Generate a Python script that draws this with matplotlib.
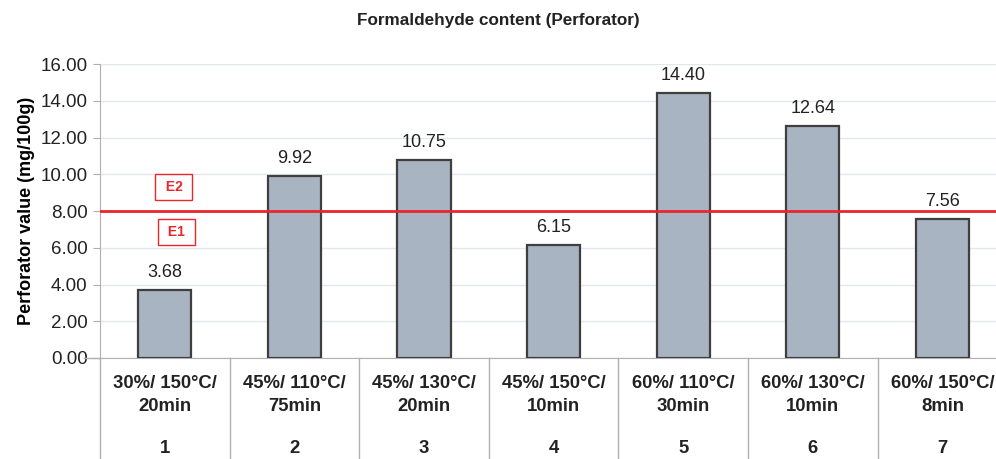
import matplotlib.pyplot as plt

# data
categories = ["30%/ 150°C/\n20min", "45%/ 110°C/\n75min", "45%/ 130°C/\n20min",
              "45%/ 150°C/\n10min", "60%/ 110°C/\n30min", "60%/ 130°C/\n10min",
              "60%/ 150°C/\n8min"]
numbers = ["1", "2", "3", "4", "5", "6", "7"]
values = [3.68, 9.92, 10.75, 6.15, 14.40, 12.64, 7.56]
limit_value = 8.0
y_ticks = [0, 2, 4, 6, 8, 10, 12, 14, 16]

W, H = 996, 459
fig = plt.figure(figsize=(W / 100, H / 100), dpi=100)
plt.rcParams['font.family'] = ['Liberation Sans', 'DejaVu Sans']

# axes: x from 100px to right edge, y from 358px (0) to 64px (16)
left, right = 100, W
bottom_px, top_px = 358, 64
ax = fig.add_axes([left / W, 1 - bottom_px / H, (right - left) / W, (bottom_px - top_px) / H])

cat_w = 129.6
x = list(range(len(values)))
ax.set_xlim(-0.5, -0.5 + (right - left) / cat_w)
ax.set_ylim(0, 16)

ax.bar(x, values, width=0.41, color="#a8b4c2", edgecolor="#3f3f3f", linewidth=1.6, zorder=3)
for xi, v in zip(x, values):
    ax.text(xi, v + 0.5, f"{v:.2f}", ha="center", va="bottom", fontsize=13, color="#222222")

ax.axhline(limit_value, color="#e8262b", linewidth=2, zorder=4)

box = dict(boxstyle="square,pad=0.45", facecolor="white", edgecolor="#e8262b", linewidth=1)
ax.text(0.07, 9.3, " E2 ", ha="center", va="center", fontsize=10, fontweight="bold",
        color="#e8262b", bbox=box, zorder=5)
ax.text(0.09, 6.85, " E1 ", ha="center", va="center", fontsize=10, fontweight="bold",
        color="#e8262b", bbox=box, zorder=5)

ax.set_yticks(y_ticks)
ax.set_yticklabels([f"{t:.2f}" for t in y_ticks], fontsize=13.5, color="#222222")
ax.set_xticks([])
ax.grid(axis="y", color="#e3e6ec", linewidth=1, zorder=0)
for s in ["top", "right"]:
    ax.spines[s].set_visible(False)
ax.spines["left"].set_color("#b0b0b0")
ax.spines["bottom"].set_color("#b0b0b0")
ax.tick_params(axis="y", length=5, color="#b0b0b0", pad=4)

ax.set_ylabel("Perforator value (mg/100g)", fontsize=13, fontweight="bold", labelpad=4)

# category table under the axis
for i in range(len(values) + 1):
    ax.plot([i - 0.5, i - 0.5], [0, -5.5], color="#b0b0b0", linewidth=1, clip_on=False)
ax.plot([-0.62, -0.5], [0, 0], color="#b0b0b0", linewidth=1, clip_on=False)
for xi, lab, num in zip(x, categories, numbers):
    ax.text(xi, -2.01, lab, ha="center", va="center", fontsize=13.3, fontweight="bold",
            color="#222222", linespacing=1.45)
    ax.text(xi, -4.95, num, ha="center", va="center", fontsize=13.3, fontweight="bold", color="#222222")

fig.text(0.5, 1 - 20 / H, "Formaldehyde content (Perforator)", ha="center", va="center",
         fontsize=12.3, fontweight="bold", color="#222222")

fig.savefig("out.png", dpi=100)
